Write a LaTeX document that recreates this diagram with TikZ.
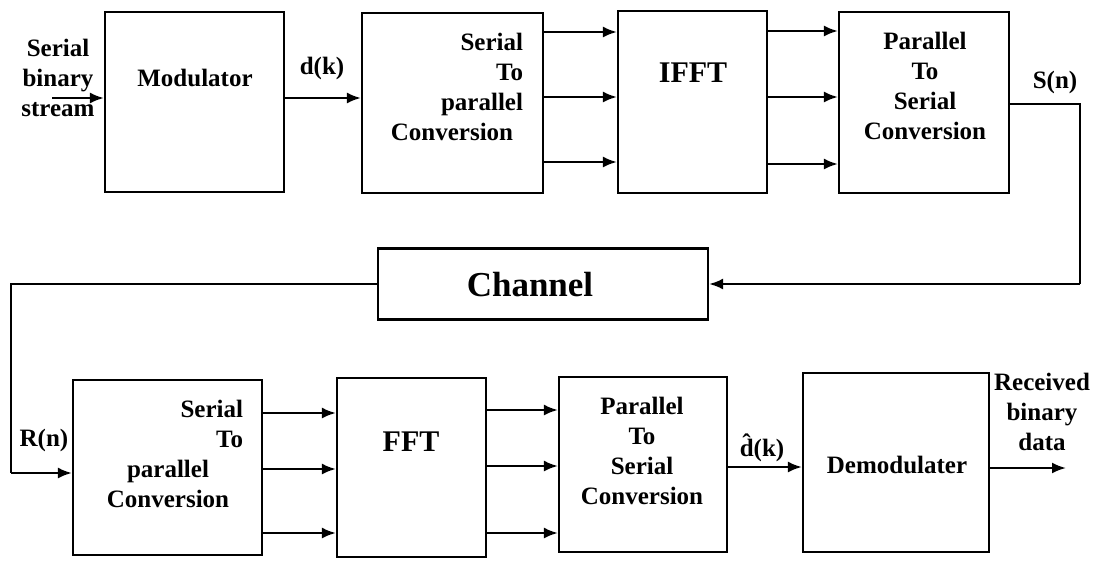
\documentclass[tikz,border=0pt]{standalone}
\usepackage{fontspec}
\setmainfont{Liberation Serif}
\usetikzlibrary{arrows.meta}
\begin{document}
\begin{tikzpicture}[x=1pt,y=-1pt,
  blk/.style={draw, line width=2.2pt, rectangle, inner sep=0pt},
  arr/.style={line width=2.2pt, -{Latex[length=14pt,width=11pt]}},
  ln/.style={line width=2.2pt},
  txt/.style={inner sep=0pt, font=\bfseries\fontsize{25}{30}\selectfont, align=center},
  big/.style={inner sep=0pt, font=\bfseries\fontsize{30}{34}\selectfont},
  huge/.style={inner sep=0pt, font=\bfseries\fontsize{35}{40}\selectfont}]
\useasboundingbox (0,0) rectangle (1094,562);
% boxes
\node[blk, minimum width=179pt, minimum height=180pt] (mod) at (194.5,102) {};
\node[blk, minimum width=181pt, minimum height=180pt] (sp1) at (452.5,103) {};
\node[blk, minimum width=149pt, minimum height=182pt] (ifft) at (692.5,102) {};
\node[blk, minimum width=170pt, minimum height=181pt] (ps1) at (924,102.5) {};
\node[blk, minimum width=330pt, minimum height=71pt] (chan) at (543,284) {};
\node[blk, minimum width=189pt, minimum height=175pt] (sp2) at (167.5,467.5) {};
\node[blk, minimum width=149pt, minimum height=179pt] (fft) at (411.5,467.5) {};
\node[blk, minimum width=168pt, minimum height=175pt] (ps2) at (643,464.5) {};
\node[blk, minimum width=186pt, minimum height=179pt] (demod) at (896,462.5) {};
% texts
\node[txt] (tin) at (58,78) {Serial\\binary\\stream};
\node[txt] (tmod) at (195,78) {Modulator};
\node[txt] (tdk) at (322,68) {d(k)};
\node[txt] (tsp1) at (452,87) {\makebox[142pt][r]{Serial}\\\makebox[142pt][r]{To}\\\makebox[142pt][r]{parallel}\\Conversion};
\node[big] (tifft) at (693,73) {IFFT};
\node[txt] (tps1) at (925,86) {Parallel\\To\\Serial\\Conversion};
\node[txt] (tsn) at (1055,82) {S(n)};
\node[huge] (tchan) at (530,285) {Channel};
\node[txt] (trn) at (44,440) {R(n)};
\node[txt] (tsp2) at (168,454) {\makebox[150pt][r]{Serial}\\\makebox[150pt][r]{To}\\parallel\\Conversion};
\node[big] (tfft) at (411,442) {FFT};
\node[txt] (tps2) at (642,451) {Parallel\\To\\Serial\\Conversion};
\node[txt] (tdh) at (762,448) {\^{d}(k)};
\node[txt] (tdem) at (897,465) {Demodulater};
\node[txt] (tout) at (1042,412) {Received\\binary\\data};
% coordinates
\coordinate (in) at (52,98);
\coordinate (c1) at (1080,284);
\coordinate (c2) at (11,284);
\coordinate (c3) at (11,473);
\coordinate (out) at (1066,468);
% connectors
\draw[arr] (in) -- (mod.west |- in);
\draw[arr] (mod.east |- 0,98) -- (sp1.west |- 0,98);
\foreach \y in {32,97,162} \draw[arr] (sp1.east |- 0,\y) -- (ifft.west |- 0,\y);
\foreach \y in {31,97,164} \draw[arr] (ifft.east |- 0,\y) -- (ps1.west |- 0,\y);
\draw[ln] (ps1.east |- 0,104) -| (c1);
\draw[arr] (c1) -- (chan.east);
\draw[ln] (chan.west) -- (c2) -- (c3);
\draw[arr] (c3) -- (sp2.west |- c3);
\foreach \y in {413,469,533} \draw[arr] (sp2.east |- 0,\y) -- (fft.west |- 0,\y);
\foreach \y in {410,466,533} \draw[arr] (fft.east |- 0,\y) -- (ps2.west |- 0,\y);
\draw[arr] (ps2.east |- 0,467) -- (demod.west |- 0,467);
\draw[arr] (demod.east |- out) -- (out);
\end{tikzpicture}
\end{document}
